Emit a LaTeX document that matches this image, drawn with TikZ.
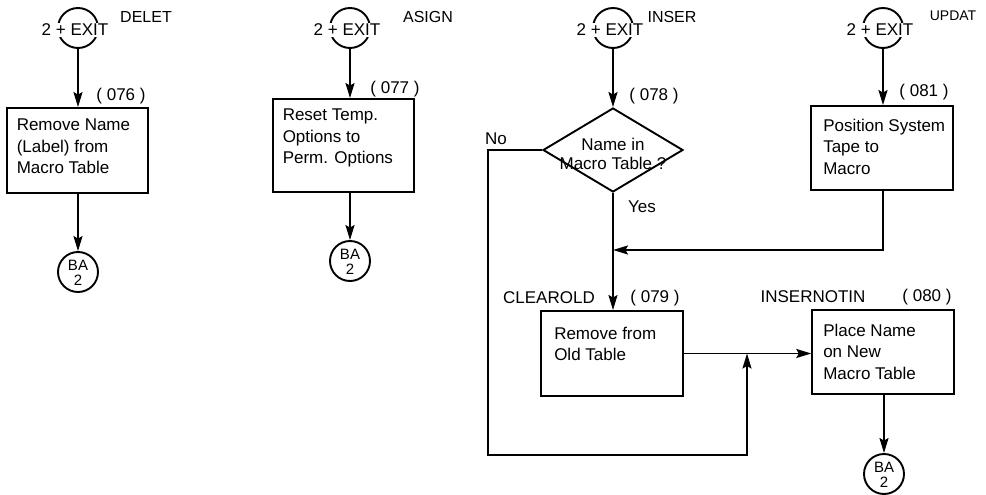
\documentclass[tikz,border=0pt]{standalone}
\usepackage{fontspec}
\setmainfont{Liberation Sans}
\usetikzlibrary{arrows.meta,shapes.geometric,calc}
\begin{document}
\begin{tikzpicture}[x=1pt,y=-1pt,
  line width=1.9pt,
  every node/.style={font=\fontsize{17}{21.5}\selectfont},
  arr/.style={-{Stealth[length=15pt,width=9pt,inset=2.5pt]}},
  boxn/.style={draw,rectangle,inner sep=0pt,minimum width=141.5pt,minimum height=#1},
  conn/.style={draw,circle,minimum size=40pt,inner sep=0pt},
  exitt/.style={fill=white,inner sep=1pt},
  lab/.style={inner sep=0pt},
  small/.style={inner sep=0pt,font=\fontsize{16}{18}\selectfont},
  tiny/.style={inner sep=0pt,font=\fontsize{14}{16}\selectfont},
  txt/.style={align=left,anchor=north west,inner sep=0pt},
  bat/.style={inner sep=0pt,font=\fontsize{15}{15}\selectfont}
]
\useasboundingbox (0,0) rectangle (986,495);

% entry connectors
\node[conn] (c1) at (78,28) {};
\node[exitt] (x1) at (75,30) {2 + EXIT};
\node[small] (l1) at (146,17) {DELET};
\node[conn] (c2) at (350,28) {};
\node[exitt] (x2) at (347,30) {2 + EXIT};
\node[small] (l2) at (428,17) {ASIGN};
\node[conn] (c3) at (613,28) {};
\node[exitt] (x3) at (610,30) {2 + EXIT};
\node[small] (l3) at (672,17) {INSER};
\node[conn] (c4) at (883,28) {};
\node[exitt] (x4) at (880,30) {2 + EXIT};
\node[tiny] (l4) at (953,16) {UPDAT};

% boxes
\node[boxn=85pt] (b1) at (77.5,150.5) {};
\node[txt] (t1) at ($(b1.north west)+(10,11)$) {Remove Name\\(Label) from\\Macro Table};
\node[lab] (n1) at (121,96) {( 076 )};

\node[boxn=93pt] (b2) at (343.5,145.5) {};
\node[txt] (t2) at ($(b2.north west)+(10,10)$) {Reset Temp.\\Options to\\Perm. Options};
\node[lab] (n2) at (395,89) {( 077 )};

\node[draw,diamond,minimum width=140pt,minimum height=84pt,inner sep=0pt] (d) at (613,150) {};
\node[align=center,inner sep=0pt,font=\fontsize{17}{18.5}\selectfont] (dt) at (613,154) {Name in\\Macro Table ?};
\node[lab] (n3) at (654,96) {( 078 )};
\node[lab] (no) at (496,139) {No};
\node[lab] (yes) at (642,207) {Yes};

\node[boxn=84pt] (b081) at (882,148) {};
\node[txt] (t081) at ($(b081.north west)+(12,13)$) {Position System\\Tape to\\Macro};
\node[lab] (n4) at (924,92) {( 081 )};

\node[boxn=85pt] (b079) at (612,353.5) {};
\node[txt] (t079) at ($(b079.north west)+(13,16)$) {Remove from\\Old Table};
\node[lab] (cl) at (549,298) {CLEAROLD};
\node[lab] (n5) at (655,298) {( 079 )};

\node[boxn=84pt] (b080) at (883,352) {};
\node[txt] (t080) at ($(b080.north west)+(11,14)$) {Place Name\\on New\\Macro Table};
\node[lab] (in) at (813,297) {INSERNOTIN};
\node[lab] (n6) at (927,297) {( 080 )};

% off-page connectors
\node[conn] (ba1) at (78,272) {};
\node[bat] (bt1) at ($(ba1)+(0,-7)$) {BA};
\node[bat] (bn1) at ($(ba1)+(0,8)$) {2};
\node[conn] (ba2) at (350,261) {};
\node[bat] (bt2) at ($(ba2)+(0,-7)$) {BA};
\node[bat] (bn2) at ($(ba2)+(0,8)$) {2};
\node[conn] (ba3) at (884,474) {};
\node[bat] (bt3) at ($(ba3)+(0,-7)$) {BA};
\node[bat] (bn3) at ($(ba3)+(0,8)$) {2};

% connectors
\draw[arr] (c1.south) -- (c1.south |- b1.north);
\draw[arr] (b1.south -| ba1.north) -- (ba1.north);
\draw[arr] (c2.south) -- (c2.south |- b2.north);
\draw[arr] (b2.south -| ba2.north) -- (ba2.north);
\draw[arr] (c3.south) -- (d.north);
\draw[arr] (d.south) -- (d.south |- b079.north);
\draw[arr] (c4.south) -- (c4.south |- b081.north);
\coordinate (uc) at (883,250);
\draw[arr] (uc |- b081.south) -- (uc) -- (uc -| d.south);
\draw[arr] (b079.east) -- (b079.east -| b080.west);
\coordinate (nb) at (488,455);
\coordinate (nj) at (747,455);
\draw[arr] (d.west) -| (nb) -- (nj) -- (nj |- b079.east);
\draw[arr] (b080.south -| ba3.north) -- (ba3.north);
\end{tikzpicture}
\end{document}
